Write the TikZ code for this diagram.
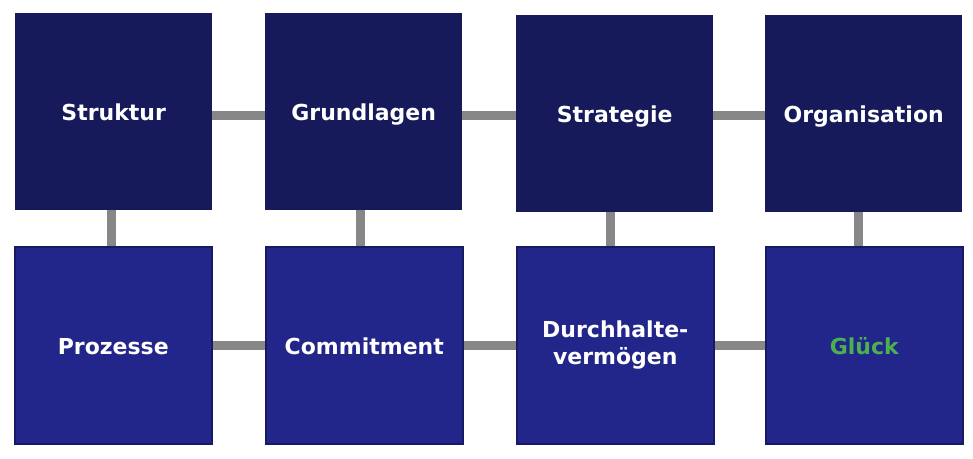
\documentclass[tikz,border=0pt]{standalone}
\usepackage{fontspec}
\setmainfont{DejaVu Sans}
\usetikzlibrary{backgrounds}
\definecolor{topfill}{HTML}{16195A}
\definecolor{botfill}{HTML}{22268A}
\definecolor{botline}{HTML}{171A62}
\definecolor{conncol}{HTML}{878787}
\definecolor{gluck}{HTML}{4CAF50}
\tikzset{
  box/.style={minimum width=197pt, minimum height=197pt, inner sep=0pt, font=\fontsize{22}{27}\selectfont\bfseries, text=white, align=center, anchor=north west, text height=22pt, text depth=4.4pt},
  topbox/.style={box, fill=topfill},
  botbox/.style={box, fill=botfill, draw=botline, line width=1.5pt},
  conn/.style={draw=conncol, line width=9pt}
}
\begin{document}
\begin{tikzpicture}[x=1pt,y=-1pt]
\useasboundingbox (0,0) rectangle (973,458);
\node[topbox] (s) at (15,13) {Struktur};
\node[topbox] (g) at (265,13) {Grundlagen};
\node[topbox] (st) at (516,15) {Strategie};
\node[topbox] (o) at (765,15) {Organisation};
\node[botbox] (p) at (14,246) {Prozesse};
\node[botbox] (c) at (265,246) {Commitment};
\node[botbox, text height=, text depth=] (d) at (516,246) {Durchhalte-\\vermögen};
\node[botbox] (gl) at (765,246) {\textcolor{gluck}{Glück}};
\begin{scope}[on background layer]
\draw[conn] ([yshift=-4pt]s.center) -- ([yshift=-4pt]s.center -| g.center);
\draw[conn] ([yshift=-4pt]g.center) -- ([yshift=-4pt]g.center -| st.center);
\draw[conn] ([yshift=-2pt]st.center) -- ([yshift=-2pt]st.center -| o.center);
\draw[conn] (p) -- (c);
\draw[conn] (c) -- (d);
\draw[conn] (d) -- (gl);
\draw[conn] ([xshift=-2.5pt]s.center) -- ([xshift=-2.5pt]s.center |- p.center);
\draw[conn] ([xshift=-3.5pt]g.center) -- ([xshift=-3.5pt]g.center |- c.center);
\draw[conn] ([xshift=-4.5pt]st.center) -- ([xshift=-4.5pt]st.center |- d.center);
\draw[conn] ([xshift=-5pt]o.center) -- ([xshift=-5pt]o.center |- gl.center);
\end{scope}
\end{tikzpicture}
\end{document}
